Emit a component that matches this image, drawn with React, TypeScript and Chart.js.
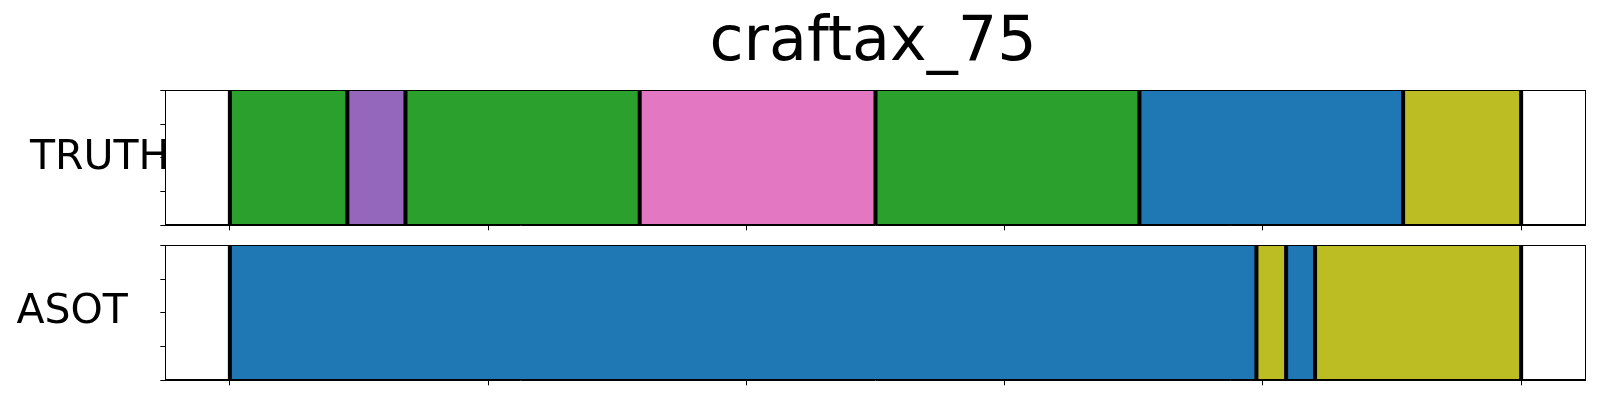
import React, { useEffect, useRef } from "react";
import { Chart, registerables } from "chart.js";

Chart.register(...registerables);

// ---- data ----
const chartTitle = "craftax_75";
const xTickValues = [0, 100, 200, 300, 400, 500];
const yTickValues = [0, 0.25, 0.5, 0.75, 1];
const xMin = -25;
const xMax = 525;
const truthBounds = [0, 45.5, 68, 158.7, 250, 352.2, 454.3, 500];
const truthClasses = [2, 4, 2, 6, 2, 0, 8];
const asotBounds = [0, 397.5, 409, 420.2, 500];
const asotClasses = [0, 8, 0, 8];
const rowNames = ["TRUTH", "ASOT"];
const palette = [
  "#1f77b4", "#ff7f0e", "#2ca02c", "#d62728", "#9467bd",
  "#8c564b", "#e377c2", "#7f7f7f", "#bcbd22", "#17becf",
];

const FONT = "'DejaVu Sans', 'Liberation Sans', sans-serif";

type PanelProps = {
  bounds: number[];
  classes: number[];
  label: string;
  labelX: number;
  labelDy: number;
  showTitle: boolean;
  top: number;
  height: number;
  padTop: number;
  padBottom: number;
};

function Panel(p: PanelProps) {
  const ref = useRef<HTMLCanvasElement | null>(null);
  useEffect(() => {
    if (!ref.current) return;
    const boundaryDs = p.bounds.map((b) => ({
      type: "line" as const,
      data: [{ x: b, y: 0 }, { x: b, y: 1 }],
      borderColor: "#000000",
      borderWidth: 4,
      pointRadius: 0,
      fill: false,
    }));
    const segDs = p.classes.map((c, i) => ({
      type: "line" as const,
      data: [{ x: p.bounds[i], y: 1 }, { x: p.bounds[i + 1], y: 1 }],
      borderColor: "rgba(0,0,0,0)",
      borderWidth: 0,
      backgroundColor: palette[c],
      fill: "origin",
      pointRadius: 0,
    }));
    const framePlugin = {
      id: "frameAndLabel",
      afterDatasetsDraw(chart: any) {
        const { ctx, chartArea } = chart;
        ctx.save();
        ctx.strokeStyle = "#000";
        ctx.lineWidth = 1;
        const l = Math.round(chartArea.left) + 0.5;
        const t = Math.round(chartArea.top) + 0.5;
        const r = Math.round(chartArea.right) - 0.5;
        const b = Math.round(chartArea.bottom) - 0.5;
        ctx.strokeRect(l, t, r - l, b - t);
        ctx.fillStyle = "#000";
        ctx.font = `41px ${FONT}`;
        ctx.textAlign = "left";
        ctx.textBaseline = "alphabetic";
        ctx.fillText(p.label, p.labelX, chartArea.top + p.labelDy);
        ctx.restore();
      },
    };
    const chart = new Chart(ref.current, {
      type: "line",
      data: { datasets: [...boundaryDs, ...segDs] as any },
      options: {
        animation: false,
        responsive: false,
        maintainAspectRatio: false,
        devicePixelRatio: 1,
        layout: {
          padding: { left: 160.3, right: 14.3, top: p.padTop, bottom: p.padBottom },
        },
        plugins: {
          legend: { display: false },
          tooltip: { enabled: false },
          title: {
            display: p.showTitle,
            text: chartTitle,
            color: "#000",
            font: { family: FONT, size: 62, weight: "normal" as any },
            padding: { top: 7, bottom: 8.9 },
          },
        },
        scales: {
          x: {
            type: "linear",
            min: xMin,
            max: xMax,
            afterBuildTicks: (s: any) => {
              s.ticks = xTickValues.map((v) => ({ value: v }));
            },
            afterFit: (s: any) => {
              s.height = 5;
            },
            ticks: { display: false },
            grid: {
              drawOnChartArea: false,
              drawTicks: true,
              tickLength: 5,
              tickColor: "#000",
              tickWidth: 1,
            },
            border: { display: true, color: "#000", width: 1 },
          },
          y: {
            type: "linear",
            min: 0,
            max: 1,
            afterBuildTicks: (s: any) => {
              s.ticks = yTickValues.map((v) => ({ value: v }));
            },
            afterFit: (s: any) => {
              s.width = 5;
            },
            ticks: { display: false },
            grid: {
              drawOnChartArea: false,
              drawTicks: true,
              tickLength: 5,
              tickColor: "#000",
              tickWidth: 1,
            },
            border: { display: true, color: "#000", width: 1 },
          },
        },
      } as any,
      plugins: [framePlugin],
    });
    return () => chart.destroy();
  }, []);
  return (
    <canvas
      ref={ref}
      width={1600}
      height={p.height}
      style={{ position: "absolute", left: 0, top: p.top, width: 1600, height: p.height }}
    />
  );
}

export default function App() {
  return (
    <div
      style={{
        position: "absolute",
        left: 0,
        top: 0,
        width: 1600,
        height: 400,
        background: "#ffffff",
        overflow: "hidden",
      }}
    >
      <Panel
        bounds={truthBounds}
        classes={truthClasses}
        label={rowNames[0]}
        labelX={30}
        labelDy={79}
        showTitle={true}
        top={0}
        height={235}
        padTop={0}
        padBottom={4.7}
      />
      <Panel
        bounds={asotBounds}
        classes={asotClasses}
        label={rowNames[1]}
        labelX={16.4}
        labelDy={78}
        showTitle={false}
        top={235}
        height={165}
        padTop={10.3}
        padBottom={14.7}
      />
    </div>
  );
}
